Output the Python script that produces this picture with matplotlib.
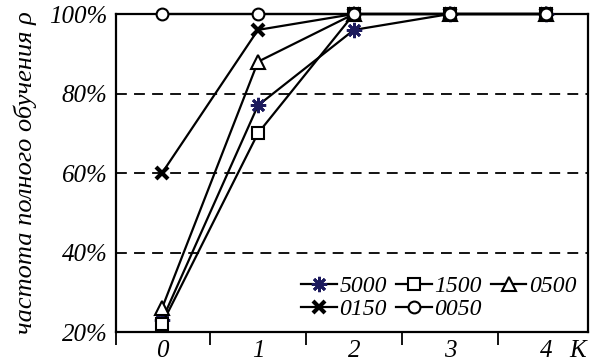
import numpy as np
import matplotlib.pyplot as plt

plt.rcParams['font.family'] = ['Liberation Serif', 'DejaVu Serif']
plt.rcParams['font.style'] = 'italic'

K = [0, 1, 2, 3, 4]
s5000 = [23, 77, 96, 100, 100]
s1500 = [22, 70, 100, 100, 100]
s0500 = [26, 88, 100, 100, 100]
s0150 = [60, 96, 100, 100, 100]
s0050 = [100, 100, 100, 100, 100]
labels = ['5000', '1500', '0500', '0150', '0050']
yticks = [20, 40, 60, 80, 100]

fig = plt.figure(figsize=(5.93, 3.61), dpi=100)
ax = fig.add_axes([0.1956, 0.0803, 0.7960, 0.8809])

for y in [40, 60, 80]:
    ax.axhline(y, color='black', ls=(0, (6, 4)), lw=1.3, zorder=1)

lw = 1.6
h1, = ax.plot(K, s5000, color='black', lw=lw, marker=(8, 2, 0), ms=11, mec='#1c1a5c',
              mew=2.0, label=labels[0], clip_on=False, zorder=3)
h2, = ax.plot(K, s1500, color='black', lw=lw, marker='s', ms=9, mfc='white', mec='black',
              mew=1.5, label=labels[1], clip_on=False, zorder=3)
h3, = ax.plot(K, s0500, color='black', lw=lw, marker='^', ms=10, mfc='white', mec='black',
              mew=1.5, label=labels[2], clip_on=False, zorder=3)
h4, = ax.plot(K, s0150, color='black', lw=lw, marker='x', ms=9, mec='black',
              mew=3.0, label=labels[3], clip_on=False, zorder=3)
h5, = ax.plot(K, s0050, color='black', lw=lw, marker='o', ms=8.5, mfc='white', mec='black',
              mew=1.5, label=labels[4], clip_on=False, zorder=4)

ax.set_xlim(-0.48, 4.44)
ax.set_ylim(20, 100)
ax.set_yticks(yticks)
ax.set_yticklabels(['%d%%' % v for v in yticks], fontsize=18)
ax.tick_params(axis='y', length=0, pad=6)

ax.set_xticks(K)
ax.set_xticklabels([str(k) for k in K], fontsize=18)
ax.set_xticks([-0.48, 0.5, 1.5, 2.5, 3.5], minor=True)
ax.tick_params(axis='x', which='major', length=0, pad=6)
ax.tick_params(axis='x', which='minor', direction='out', length=9, width=1.3)

for sp in ax.spines.values():
    sp.set_linewidth(1.6)

ax.set_ylabel('частота полного обучения ρ', fontsize=19, labelpad=9)
ax.text(4.33, -0.06, 'K', transform=ax.get_xaxis_transform(), fontsize=18,
        ha='center', va='center')

# row-wise order: 5000 1500 0500 / 0150 0050
ax.legend([h1, h4, h2, h5, h3], [labels[0], labels[3], labels[1], labels[4], labels[2]],
          loc='lower right', ncol=3, frameon=False, fontsize=17,
          handlelength=1.5, handletextpad=0.1, columnspacing=0.4,
          labelspacing=0.05, borderaxespad=0.1, bbox_to_anchor=(1.0, 0.0))

fig.savefig('out.png', dpi=100)
